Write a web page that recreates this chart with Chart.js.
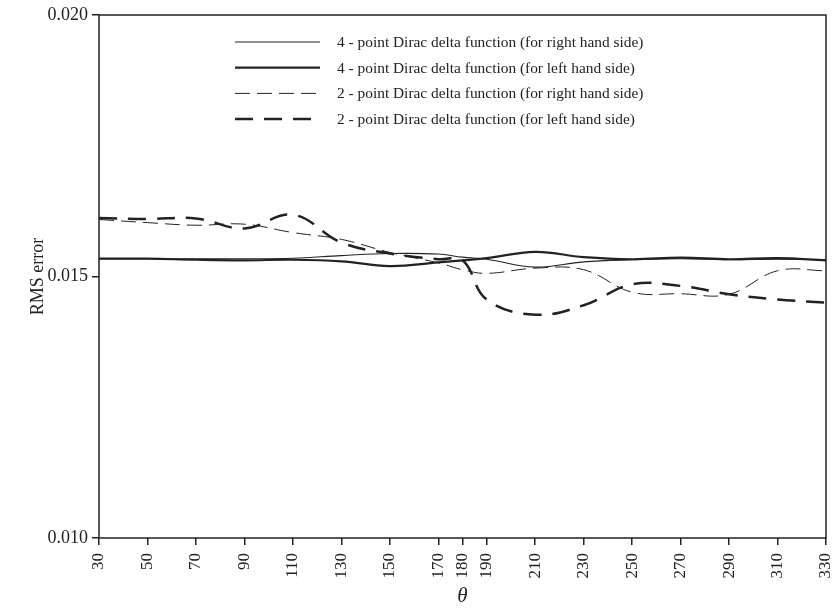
<!DOCTYPE html>
<html>
<head>
<meta charset="utf-8">
<script src="https://cdn.jsdelivr.net/npm/chart.js@4.4.1/dist/chart.umd.min.js"></script>
<style>
  html, body { margin: 0; padding: 0; background: #fff; }
  #wrap { width: 834px; height: 608px; }
</style>
</head>
<body>
<div id="wrap"><canvas id="c" width="834" height="608"></canvas></div>
<script>
// Angle positions (degrees) where the RMS error was evaluated
const theta = [30, 50, 70, 90, 110, 130, 150, 170, 180, 190, 210, 230, 250, 270, 290, 310, 330];
const xTickValues = [30, 50, 70, 90, 110, 130, 150, 170, 180, 190, 210, 230, 250, 270, 290, 310, 330];
const yTickValues = [0.010, 0.015, 0.020];

const seriesLabels = [
  '4 - point Dirac delta function (for right hand side)',
  '4 - point Dirac delta function (for left hand side)',
  '2 - point Dirac delta function (for right hand side)',
  '2 - point Dirac delta function (for left hand side)'
];

const fourPointRight = [0.01534, 0.01534, 0.01534, 0.01534, 0.01535, 0.01540, 0.01544, 0.01543, 0.01537, 0.01533, 0.01518, 0.01528, 0.01532, 0.01534, 0.01532, 0.01533, 0.01532];
const fourPointLeft  = [0.01534, 0.01534, 0.01532, 0.01531, 0.01532, 0.01529, 0.01520, 0.01527, 0.01531, 0.01535, 0.01547, 0.01537, 0.01533, 0.01536, 0.01533, 0.01535, 0.01531];
const twoPointRight  = [0.01609, 0.01603, 0.01598, 0.01600, 0.01584, 0.01571, 0.01546, 0.01526, 0.01513, 0.01506, 0.01516, 0.01513, 0.01470, 0.01467, 0.01466, 0.01511, 0.01511];
const twoPointLeft   = [0.01612, 0.01610, 0.01611, 0.01592, 0.01618, 0.01565, 0.01544, 0.01533, 0.01531, 0.01456, 0.01427, 0.01445, 0.01485, 0.01482, 0.01466, 0.01456, 0.01450];

const SERIF = '"Liberation Serif", "Times New Roman", serif';
const INK = '#222';

function pts(vals) { return theta.map((t, i) => ({ x: t, y: vals[i] })); }

const styles = [
  { borderColor: INK, borderWidth: 1.1, borderDash: [] },
  { borderColor: INK, borderWidth: 2.2, borderDash: [] },
  { borderColor: INK, borderWidth: 1.0, borderDash: [15, 7] },
  { borderColor: INK, borderWidth: 2.5, borderDash: [18, 11] }
];
const values = [fourPointRight, fourPointLeft, twoPointRight, twoPointLeft];

const datasets = values.map((v, i) => Object.assign({
  label: seriesLabels[i],
  data: pts(v),
  pointRadius: 0,
  fill: false,
  tension: 0.4
}, styles[i]));

// Frame around the plotting area plus an inset legend with line samples
const framePlugin = {
  id: 'frameAndLegend',
  afterDatasetsDraw(chart) {
    const { ctx, chartArea: a } = chart;
    ctx.save();
    ctx.strokeStyle = INK;
    ctx.lineWidth = 1.5;
    ctx.setLineDash([]);
    ctx.strokeRect(a.left, a.top, a.right - a.left, a.bottom - a.top);

    const x0 = 235, x1 = 320, tx = 337, y0 = 42, dy = 25.7;
    chart.data.datasets.forEach((ds, i) => {
      const y = y0 + i * dy;
      ctx.strokeStyle = ds.borderColor;
      ctx.lineWidth = ds.borderWidth;
      ctx.setLineDash(ds.borderDash || []);
      ctx.beginPath();
      ctx.moveTo(x0, y);
      ctx.lineTo(x1, y);
      ctx.stroke();
      ctx.setLineDash([]);
      ctx.fillStyle = INK;
      ctx.font = '15.4px ' + SERIF;
      ctx.textAlign = 'left';
      ctx.textBaseline = 'middle';
      ctx.fillText(ds.label, tx, y + 1);
    });
    ctx.restore();
  }
};

new Chart(document.getElementById('c'), {
  type: 'line',
  data: { datasets },
  plugins: [framePlugin],
  options: {
    responsive: false,
    animation: false,
    events: [],
    layout: { padding: { top: 15, right: 8, left: 0, bottom: 0 } },
    plugins: { legend: { display: false }, tooltip: { enabled: false } },
    scales: {
      x: {
        type: 'linear',
        min: 30,
        max: 330,
        afterBuildTicks(scale) { scale.ticks = xTickValues.map(v => ({ value: v })); },
        afterFit(scale) { scale.height = 70; scale.paddingLeft = 0; scale.paddingRight = 0; },
        ticks: {
          autoSkip: false,
          minRotation: 90,
          maxRotation: 90,
          padding: 8,
          color: INK,
          font: { family: SERIF, size: 17 },
          callback: v => String(v)
        },
        grid: { drawOnChartArea: false, drawTicks: true, tickLength: 7, color: INK, lineWidth: 1.5 },
        border: { display: false },
        title: {
          display: true,
          text: 'θ',
          color: INK,
          font: { family: SERIF, size: 21, style: 'italic', lineHeight: 1 },
          padding: { top: 0, bottom: 1 }
        }
      },
      y: {
        min: 0.010,
        max: 0.020,
        afterBuildTicks(scale) { scale.ticks = yTickValues.map(v => ({ value: v })); },
        afterFit(scale) { scale.width = 99; scale.paddingTop = 0; scale.paddingBottom = 0; },
        ticks: {
          padding: 4,
          color: INK,
          font: { family: SERIF, size: 18 },
          callback: v => v.toFixed(3)
        },
        grid: { drawOnChartArea: false, drawTicks: true, tickLength: 7, color: INK, lineWidth: 1.5 },
        border: { display: false },
        title: {
          display: true,
          text: 'RMS error',
          color: INK,
          font: { family: SERIF, size: 18 },
          padding: { top: 27, bottom: 0 }
        }
      }
    }
  }
});
</script>
</body>
</html>
